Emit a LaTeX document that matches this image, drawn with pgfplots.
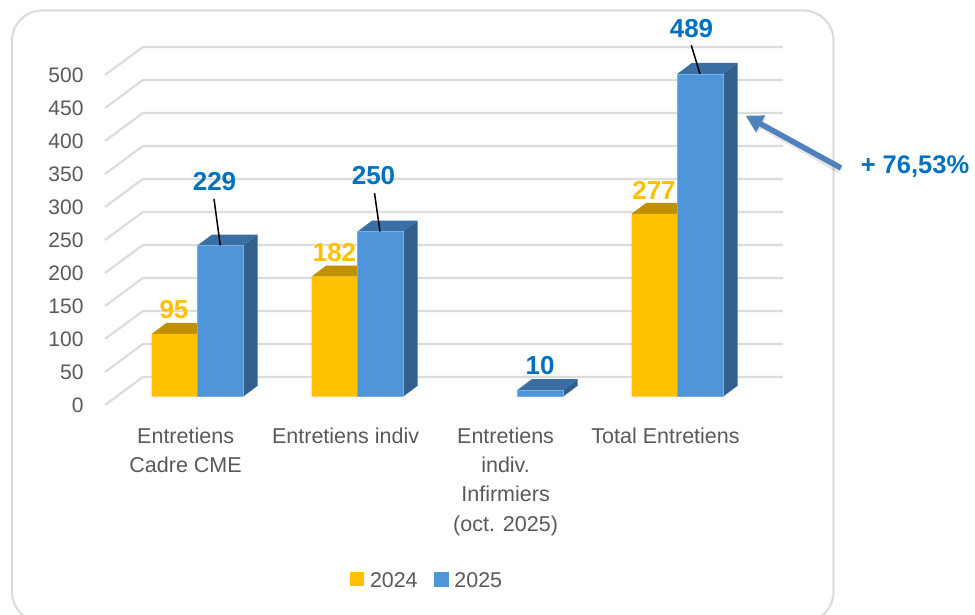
\documentclass[border=0pt]{standalone}
\usepackage{fontspec}
\setmainfont{Liberation Sans}
\usepackage{pgfplots}
\pgfplotsset{compat=1.18}
\usetikzlibrary{arrows.meta}
\definecolor{barY}{HTML}{FFC000}
\definecolor{barYtop}{HTML}{C09000}
\definecolor{barB}{HTML}{4E95D9}
\definecolor{barBtop}{HTML}{3A6FA5}
\definecolor{barBside}{HTML}{32608C}
\definecolor{gridc}{HTML}{DCDCDC}
\definecolor{txt}{HTML}{595959}
\definecolor{lblblue}{HTML}{0070C0}
\definecolor{arrowc}{HTML}{4F81BD}

% wall lines: front end, back corner, right end
\newcommand\wall[1]{%
  \pgfmathsetmacro\ya{#1-12.58}\pgfmathsetmacro\yb{#1+29.8}%
  \addplot[gridc,line width=2.2pt,forget plot] coordinates {(-0.577,\ya) (-0.34,\yb) (3.661,\yb)};}
% top face of a bar: left x, right x, value, colour
\newcommand\topface[4]{%
  \pgfmathsetmacro\xc{#1+0.092}\pgfmathsetmacro\xd{#2+0.092}\pgfmathsetmacro\yt{#3+16.67}%
  \addplot[fill=#4,draw=none,forget plot] coordinates {(#1,#3) (#2,#3) (\xd,\yt) (\xc,\yt)} -- cycle;}
% side face of a bar: right x, value
\newcommand\sideface[2]{%
  \pgfmathsetmacro\xd{#1+0.092}\pgfmathsetmacro\yt{#2+16.67}%
  \addplot[fill=barBside,draw=none,forget plot] coordinates {(#1,0) (\xd,16.67) (\xd,\yt) (#1,#2)} -- cycle;}

\begin{document}
\begin{tikzpicture}
\path[use as bounding box] (0pt,0pt) rectangle (975pt,615pt);
\begin{scope}
\clip (0pt,0pt) rectangle (975pt,615pt);
\draw[gridc,line width=2.2pt,rounded corners=30pt,fill=white] (12pt,-7pt) rectangle (833.5pt,604.5pt);
\end{scope}
\begin{axis}[
    at={(105pt,210pt)}, anchor=south west,
    scale only axis, width=678pt, height=358pt,
    xmin=-0.577, xmax=3.661, ymin=-12.58, ymax=529.8,
    clip=false,
    axis line style={draw=none}, major tick length=0pt,
    xtick={0,1,2,3},
    xticklabels={{Entretiens\\Cadre CME},{Entretiens indiv},{Entretiens\\indiv.\\Infirmiers\\(oct. 2025)},{Total Entretiens}},
    xticklabel style={font=\fontsize{21.5}{29.3}\selectfont,text=txt,align=center,anchor=north,xshift=-11.7pt,yshift=-19pt},
    ytick={0,50,...,500},
    yticklabel style={font=\fontsize{21}{24}\selectfont,text=txt,anchor=east,xshift=-18pt,yshift=-9pt},
    /pgf/number format/assume math mode=true,
    legend style={at={(0.475,-0.4916)},anchor=center,draw=none,fill=none,legend columns=2,
      font=\fontsize{21.4}{24}\selectfont,text=txt,
      /tikz/every even column/.append style={column sep=14pt}},
]
\wall{0}\wall{50}\wall{100}\wall{150}\wall{200}\wall{250}
\wall{300}\wall{350}\wall{400}\wall{450}\wall{500}
% 2024
\topface{-0.2856}{0}{95}{barYtop}
\topface{0.7144}{1}{182}{barYtop}
\topface{2.7144}{3}{277}{barYtop}
\addplot[ybar,bar width=45.7pt,bar shift=-22.85pt,fill=barY,draw=none,
    legend image code/.code={\fill[barY] (0pt,-5pt) rectangle (14pt,9pt);\path (18pt,0pt);}]
  coordinates {(0,95) (1,182) (3,277)};
\addlegendentry{2024}
% 2025
\sideface{0.2856}{229}\sideface{1.2856}{250}\sideface{2.2856}{10}\sideface{3.2856}{489}
\topface{0}{0.2856}{229}{barBtop}
\topface{1}{1.2856}{250}{barBtop}
\topface{2}{2.2856}{10}{barBtop}
\topface{3}{3.2856}{489}{barBtop}
\addplot[ybar,bar width=45.7pt,bar shift=22.85pt,fill=barB,draw=barB!75!white,line width=0.8pt,
    legend image code/.code={\fill[barB] (0pt,-5pt) rectangle (14pt,9pt);\path (18pt,0pt);}]
  coordinates {(0,229) (1,250) (2,10) (3,489)};
\addlegendentry{2025}
\end{axis}
% leader lines
\draw[black,line width=1.5pt] (214pt,416pt) -- (220.3pt,369.5pt);
\draw[black,line width=1.5pt] (374.5pt,422pt) -- (380pt,383.5pt);
\draw[black,line width=1.5pt] (691.3pt,569.7pt) -- (700pt,541pt);
% value labels
\tikzset{val/.style={font=\fontsize{26}{28}\selectfont\bfseries,inner sep=0pt}}
\node[val,text=barY] at (174pt,305pt) {95};
\node[val,text=barY] at (334.5pt,362pt) {182};
\node[val,text=barY] at (654pt,425pt) {277};
\node[val,text=lblblue] at (214.5pt,433pt) {229};
\node[val,text=lblblue] at (373.5pt,439pt) {250};
\node[val,text=lblblue] at (540pt,249pt) {10};
\node[val,text=lblblue] at (691.5pt,586pt) {489};
% arrow and its caption
\draw[black,opacity=0.1,line width=5.5pt,-{Triangle[length=17pt,width=18pt]}] (840pt,444pt) -- (747pt,497pt);
\draw[arrowc,line width=5.5pt,-{Triangle[length=17pt,width=18pt]}] (841pt,447pt) -- (745.7pt,499.3pt);
\node[font=\fontsize{25.5}{28}\selectfont\bfseries,text=lblblue,inner sep=0pt] at (915pt,448pt) {+ 76,53\%};
\end{tikzpicture}
\end{document}
